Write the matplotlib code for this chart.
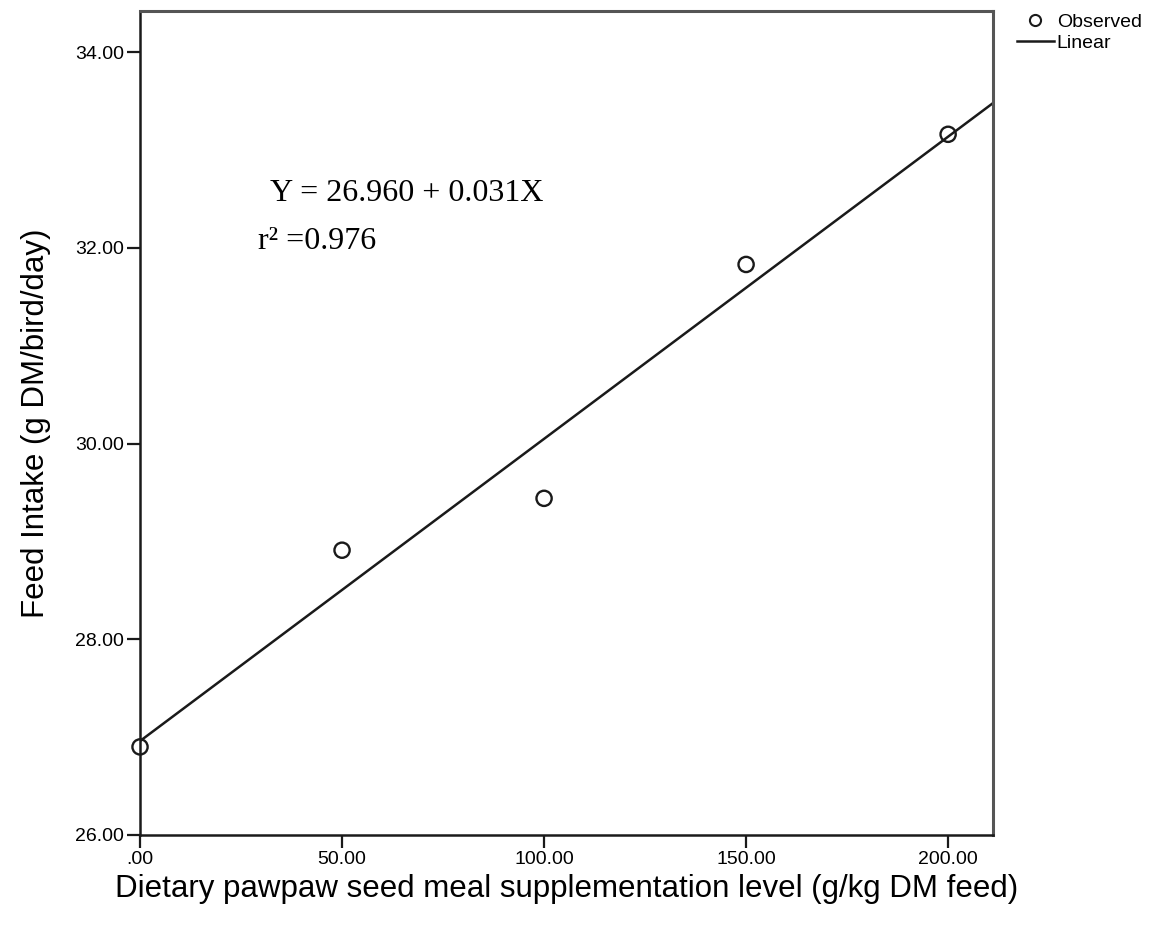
import numpy as np
import matplotlib.pyplot as plt
from matplotlib.lines import Line2D

plt.rcParams['font.family'] = ['Liberation Sans', 'DejaVu Sans']

# supplementation level (g/kg DM feed) and observed feed intake
level = [0, 50, 100, 150, 200]
intake = [26.90, 28.91, 29.44, 31.83, 33.16]

x_ticks = [0, 50, 100, 150, 200]
x_ticklabels = ['.00', '50.00', '100.00', '150.00', '200.00']
y_ticks = [26, 28, 30, 32, 34]
y_ticklabels = ['26.00', '28.00', '30.00', '32.00', '34.00']

slope, intercept = np.polyfit(level, intake, 1)

fig = plt.figure(figsize=(11.63, 9.32), dpi=100)
ax = fig.add_axes([0.1204, 0.1041, 0.7334, 0.8841])

ax.set_xlim(0, 211.1)
ax.set_ylim(26, 34.42)

xs = np.array(ax.get_xlim())
ax.plot(xs, intercept + slope * xs, color='#1a1a1a', lw=1.8, zorder=2)
ax.scatter(level, intake, s=120, facecolors='none', edgecolors='#1a1a1a',
           linewidths=1.7, zorder=3, clip_on=False)

ax.set_xticks(x_ticks)
ax.set_xticklabels(x_ticklabels)
ax.set_yticks(y_ticks)
ax.set_yticklabels(y_ticklabels)
ax.tick_params(direction='out', length=9.5, width=1.6, labelsize=14,
               color='#1a1a1a', pad=2)

for side in ['left', 'bottom']:
    ax.spines[side].set_linewidth(1.8)
    ax.spines[side].set_color('#1a1a1a')
for side in ['top', 'right']:
    ax.spines[side].set_linewidth(2.2)
    ax.spines[side].set_color('#555555')

ax.set_xlabel('Dietary pawpaw seed meal supplementation level (g/kg DM feed)',
              fontsize=22.5, labelpad=4)
ax.set_ylabel('Feed Intake (g DM/bird/day)', fontsize=22.5, labelpad=17)

ax.text(0.152, 0.779, 'Y = 26.960 + 0.031X', transform=ax.transAxes,
        fontsize=23, family='Liberation Serif', va='center')
ax.text(0.138, 0.72, 'r\u00b2 =0.976', transform=ax.transAxes,
        fontsize=23, family='Liberation Serif', va='center')

handles = [Line2D([], [], marker='o', ls='none', mfc='none', mec='#1a1a1a', ms=8, mew=1.5),
           Line2D([], [], color='#1a1a1a', lw=1.8)]
ax.legend(handles, ['Observed', 'Linear'], loc='upper left',
          bbox_to_anchor=(1.028, 0.9976), frameon=False, fontsize=14,
          handlelength=1.9, handletextpad=0.15, labelspacing=0.2, borderpad=0,
          borderaxespad=0)

fig.savefig('out.png', dpi=100)
